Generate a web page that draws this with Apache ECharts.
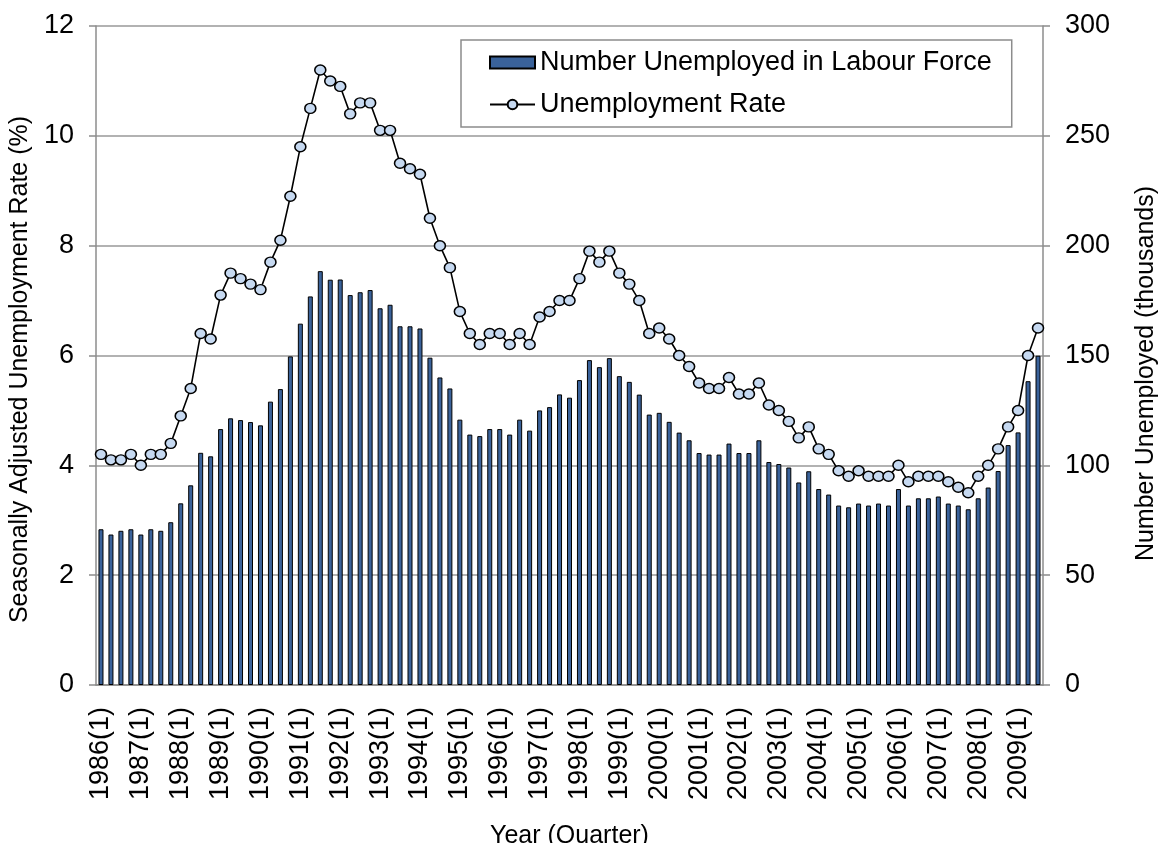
<!DOCTYPE html>
<html>
<head>
<meta charset="utf-8">
<title>Unemployment</title>
<script src="https://cdn.jsdelivr.net/npm/echarts@6/dist/echarts.min.js"></script>
<style>
  html, body { margin: 0; padding: 0; background: #fff; }
  #chart { width: 1160px; height: 843px; }
</style>
</head>
<body>
<div id="chart"></div>
<script>
// quarters 1986(1) .. 2009(3)
var startYear = 1986;
var quarterCount = 95;
var categories = [];
for (var i = 0; i < quarterCount; i++) {
  categories.push((startYear + Math.floor(i / 4)) + '(' + (i % 4 + 1) + ')');
}

// seasonally adjusted unemployment rate (%) - left axis
var rateData = [
  4.2, 4.1, 4.1, 4.2, 4.0, 4.2, 4.2, 4.4, 4.9, 5.4, 6.4, 6.3,
  7.1, 7.5, 7.4, 7.3, 7.2, 7.7, 8.1, 8.9, 9.8, 10.5, 11.2, 11.0,
  10.9, 10.4, 10.6, 10.6, 10.1, 10.1, 9.5, 9.4, 9.3, 8.5, 8.0, 7.6,
  6.8, 6.4, 6.2, 6.4, 6.4, 6.2, 6.4, 6.2, 6.7, 6.8, 7.0, 7.0,
  7.4, 7.9, 7.7, 7.9, 7.5, 7.3, 7.0, 6.4, 6.5, 6.3, 6.0, 5.8,
  5.5, 5.4, 5.4, 5.6, 5.3, 5.3, 5.5, 5.1, 5.0, 4.8, 4.5, 4.7,
  4.3, 4.2, 3.9, 3.8, 3.9, 3.8, 3.8, 3.8, 4.0, 3.7, 3.8, 3.8,
  3.8, 3.7, 3.6, 3.5, 3.8, 4.0, 4.3, 4.7, 5.0, 6.0, 6.5
];

// number unemployed (thousands) - right axis
var numberData = [
  70.9, 68.5, 70.2, 70.9, 68.5, 70.9, 70.2, 74.1, 82.7, 90.9, 105.7, 104.1,
  116.5, 121.4, 120.6, 119.7, 118.2, 129.0, 134.7, 149.6, 164.5, 176.9, 188.4, 184.5,
  184.6, 177.5, 178.8, 179.8, 171.5, 173.1, 163.3, 163.3, 162.3, 149.0, 140.0, 135.0,
  120.8, 114.0, 113.3, 116.5, 116.5, 114.0, 120.8, 115.8, 125.0, 126.5, 132.3, 130.8,
  138.8, 147.9, 144.7, 148.8, 140.6, 138.0, 132.2, 123.1, 123.9, 119.8, 114.9, 111.4,
  105.6, 104.9, 104.9, 109.9, 105.6, 105.6, 111.4, 101.5, 100.6, 99.0, 92.2, 97.3,
  89.2, 86.7, 81.7, 80.9, 82.6, 81.7, 82.6, 81.7, 89.2, 81.7, 85.0, 85.0,
  85.8, 82.6, 81.7, 80.0, 85.0, 89.9, 97.4, 109.2, 115.0, 138.3, 149.9
];

var barName = 'Number Unemployed in Labour Force';
var lineName = 'Unemployment Rate';

var font = '"Liberation Sans", Arial, sans-serif';
var axisGray = '#8c8c8c';

var chart = echarts.init(document.getElementById('chart'), null, { renderer: 'canvas' });

var option = {
  animation: false,
  backgroundColor: '#fff',
  textStyle: { fontFamily: font, color: '#000' },
  grid: {
    left: 96,
    right: 117,
    top: 26,
    bottom: 158,
    outerBoundsMode: 'none'
  },
  legend: {
    orient: 'vertical',
    left: 461,
    top: 40,
    padding: [9, 20, 9, 28],
    itemGap: 15,
    itemWidth: 45,
    itemHeight: 12,
    borderColor: axisGray,
    borderWidth: 1.5,
    backgroundColor: '#fff',
    textStyle: { fontSize: 27, color: '#000', fontFamily: font },
    data: [
      { name: barName, icon: 'rect' },
      { name: lineName }
    ]
  },
  xAxis: {
    type: 'category',
    data: categories,
    boundaryGap: true,
    name: 'Year (Quarter)',
    nameLocation: 'middle',
    nameGap: 139,
    nameTextStyle: { fontSize: 25, color: '#000' },
    axisLine: { lineStyle: { color: axisGray, width: 1.5 } },
    axisTick: { interval: 0, length: 6, lineStyle: { color: axisGray, width: 1.5 } },
    axisLabel: {
      rotate: 90,
      fontSize: 27,
      color: '#000',
      margin: 22,
      interval: function (index) { return index % 4 === 0; }
    }
  },
  yAxis: [
    {
      type: 'value',
      min: 0,
      max: 12,
      interval: 2,
      position: 'left',
      name: 'Seasonally Adjusted Unemployment Rate (%)',
      nameLocation: 'middle',
      nameGap: 61,
      nameTextStyle: { fontSize: 25, color: '#000', padding: [0, 28, 0, 0] },
      axisLine: { show: true, lineStyle: { color: axisGray, width: 1.5 } },
      axisTick: { show: true, length: 7, lineStyle: { color: axisGray, width: 1.5 } },
      axisLabel: { fontSize: 27, color: '#000', margin: 22 },
      splitLine: { lineStyle: { color: '#999', width: 1.5 } }
    },
    {
      type: 'value',
      min: 0,
      max: 300,
      interval: 50,
      position: 'right',
      name: 'Number Unemployed (thousands)',
      nameLocation: 'middle',
      nameGap: 91,
      nameTextStyle: { fontSize: 25, color: '#000', padding: [0, 36, 0, 0] },
      axisLine: { show: true, lineStyle: { color: axisGray, width: 1.5 } },
      axisTick: { show: true, length: 7, lineStyle: { color: axisGray, width: 1.5 } },
      axisLabel: { fontSize: 27, color: '#000', margin: 22 },
      splitLine: { show: false }
    }
  ],
  series: [
    {
      name: barName,
      type: 'bar',
      yAxisIndex: 1,
      barWidth: 5,
      data: numberData,
      itemStyle: { color: '#3a629a', borderColor: '#000', borderWidth: 1 }
    },
    {
      name: lineName,
      type: 'line',
      yAxisIndex: 0,
      data: rateData,
      symbol: 'circle',
      symbolSize: [11, 10],
      showAllSymbol: true,
      z: 3,
      lineStyle: { color: '#000', width: 1.6 },
      itemStyle: { color: '#c6d9f1', borderColor: '#000', borderWidth: 1.5 }
    }
  ]
};

chart.setOption(option);
</script>
</body>
</html>
